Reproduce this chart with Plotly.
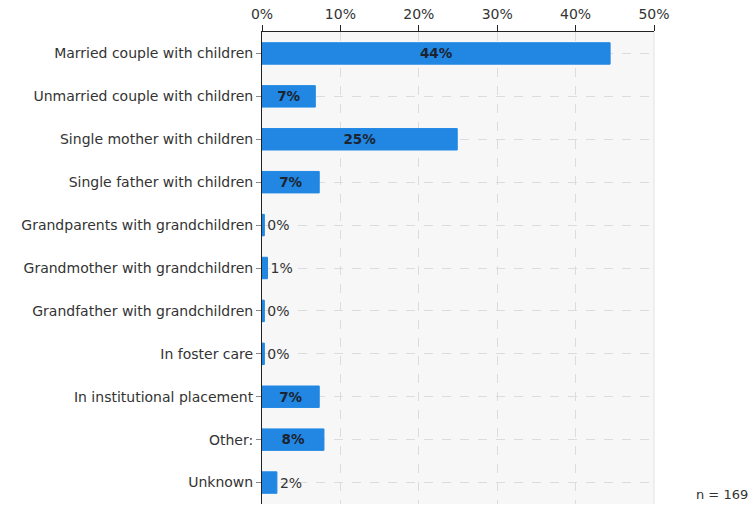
import plotly.graph_objects as go

categories = [
    "Married couple with children",
    "Unmarried couple with children",
    "Single mother with children",
    "Single father with children",
    "Grandparents with grandchildren",
    "Grandmother with grandchildren",
    "Grandfather with grandchildren",
    "In foster care",
    "In institutional placement",
    "Other:",
    "Unknown",
]
values = [44.4, 6.8, 24.9, 7.3, 0.3, 0.7, 0.3, 0.3, 7.3, 7.9, 1.9]
labels = ["44%", "7%", "25%", "7%", "0%", "1%", "0%", "0%", "7%", "8%", "2%"]
x_ticks = [0, 10, 20, 30, 40, 50]
sample_note = "n = 169"

fig = go.Figure(
    go.Bar(
        x=values,
        y=categories,
        orientation="h",
        marker=dict(color="#2187e3", line=dict(color="#2187e3", width=1)),
        text=labels,
        textposition="auto",
        insidetextanchor="middle",
        insidetextfont=dict(family="DejaVu Sans", size=14, color="#1b2430", weight="bold"),
        outsidetextfont=dict(family="DejaVu Sans", size=14, color="#333"),
        cliponaxis=False,
    )
)

fig.update_layout(
    width=754,
    height=505,
    margin=dict(l=262, r=100, t=32, b=1),
    paper_bgcolor="white",
    plot_bgcolor="#f7f7f7",
    bargap=0.5,
    showlegend=False,
    font=dict(family="DejaVu Sans", size=14, color="#333"),
    xaxis=dict(
        side="top",
        range=[0, 50],
        tickvals=x_ticks,
        ticktext=[f"{v}%" for v in x_ticks],
        showgrid=True,
        gridcolor="#dcdcdc",
        griddash="dash",
        gridwidth=1,
        showline=True,
        linecolor="#222",
        linewidth=1,
        ticks="outside",
        ticklen=6,
        tickcolor="#222",
        zeroline=False,
        tickfont=dict(size=14, color="#333"),
        mirror=False,
    ),
    yaxis=dict(
        autorange="reversed",
        showgrid=True,
        gridcolor="#dcdcdc",
        griddash="dash",
        showline=True,
        linecolor="#222",
        linewidth=1,
        ticks="outside",
        ticklen=5,
        tickcolor="#888",
        tickfont=dict(size=14, color="#333"),
    ),
    shapes=[
        dict(type="line", xref="paper", yref="paper", x0=1, x1=1, y0=0, y1=1,
             line=dict(color="#e2e2e2", width=1))
    ],
    annotations=[
        dict(text=sample_note, xref="paper", yref="paper", x=1.245, y=0.0,
             xanchor="right", yanchor="bottom", showarrow=False,
             font=dict(size=13, color="#333"))
    ],
)

fig.write_html(
    "out.html",
    config={"displayModeBar": False},
    post_script="document.body.style.margin='0';document.body.style.overflow='hidden';",
)
